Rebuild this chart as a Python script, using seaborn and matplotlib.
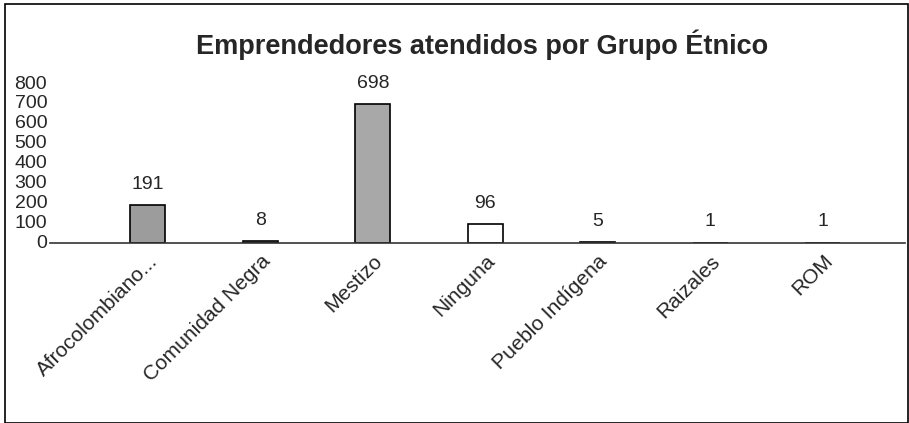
import matplotlib
matplotlib.use("Agg")
import matplotlib.pyplot as plt
import seaborn as sns
import pandas as pd
from matplotlib.patches import Rectangle

categories = ["Afrocolombiano...", "Comunidad Negra", "Mestizo", "Ninguna",
              "Pueblo Indígena", "Raizales", "ROM"]
values = [191, 8, 698, 96, 5, 1, 1]
yticks = [0, 100, 200, 300, 400, 500, 600, 700, 800]
bar_colors = ["#9c9c9c", "#9c9c9c", "#a8a8a8", "#ffffff", "#9c9c9c", "#9c9c9c", "#9c9c9c"]
title = "Emprendedores atendidos por Grupo Étnico"

sns.set_theme(style="white")
plt.rcParams['font.family'] = ['Liberation Sans', 'DejaVu Sans']

df = pd.DataFrame({"cat": categories, "val": values})

fig = plt.figure(figsize=(9.09, 4.23), dpi=100)
ax = fig.add_axes([50/909, (423-243)/423, (905-50)/909, (243-84)/423])

sns.barplot(data=df, x="cat", y="val", hue="cat", palette=bar_colors,
            width=0.31, edgecolor="black", linewidth=1.2, legend=False,
            ax=ax, order=categories, hue_order=categories)

ax.set_xlim(-0.87, 6.73)
ax.set_ylim(0, 800)
ax.set_yticks(yticks)
ax.set_yticklabels([str(t) for t in yticks], fontsize=14)
ax.tick_params(axis="y", length=0, pad=2)
ax.tick_params(axis="x", length=0, pad=6)
ax.set_xlabel("")
ax.set_ylabel("")
for lbl in ax.get_yticklabels():
    lbl.set_verticalalignment("center")

ax.set_xticks(range(len(categories)))
ax.set_xticklabels(categories, rotation=45, ha="right", rotation_mode="anchor",
                   fontsize=15)

for s in ["left", "right", "top"]:
    ax.spines[s].set_visible(False)
ax.spines["bottom"].set_color("#333333")
ax.spines["bottom"].set_linewidth(1.2)

for i, v in enumerate(values):
    ax.annotate(str(v), xy=(i, v), xytext=(0, 15), textcoords="offset points",
                ha="center", va="center", fontsize=14, annotation_clip=False)

fig.text(482/909, 1 - 45/423, title, ha="center", va="center",
         fontsize=19.5, fontweight="bold")

fig.patches.append(Rectangle((5/909, 0), 1 - 6/909, 1 - 4/423, transform=fig.transFigure,
                             fill=False, edgecolor="black", linewidth=1.2))

fig.savefig("out.png", dpi=100)
